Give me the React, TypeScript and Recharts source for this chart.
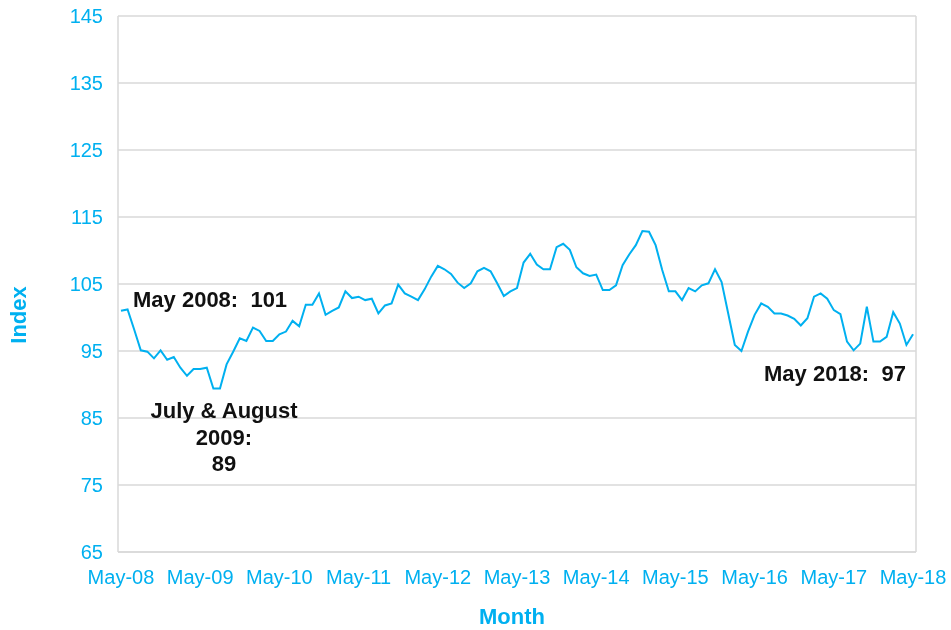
import { CartesianGrid, Line, LineChart, ReferenceLine, XAxis, YAxis } from "recharts";

const tickLabels = [
  "May-08", "May-09", "May-10", "May-11", "May-12", "May-13",
  "May-14", "May-15", "May-16", "May-17", "May-18",
];
const yTicks = [65, 75, 85, 95, 105, 115, 125, 135, 145];

// monthly index, May 2008 .. May 2018
const indexValues = [
  101.0, 101.2, 98.2, 95.1, 94.9, 93.9, 95.1, 93.7, 94.1, 92.5,
  91.3, 92.3, 92.3, 92.5, 89.4, 89.4, 93.0, 94.9, 96.9, 96.5,
  98.5, 98.0, 96.5, 96.5, 97.5, 97.9, 99.5, 98.7, 101.9, 101.9,
  103.6, 100.4, 101.0, 101.5, 103.9, 102.9, 103.1, 102.6, 102.8, 100.6,
  101.8, 102.1, 104.9, 103.6, 103.1, 102.6, 104.2, 106.1, 107.7, 107.2,
  106.5, 105.2, 104.4, 105.1, 106.9, 107.4, 106.9, 105.1, 103.2, 103.9,
  104.4, 108.2, 109.5, 107.9, 107.2, 107.2, 110.5, 111.0, 110.1, 107.5,
  106.6, 106.2, 106.4, 104.1, 104.1, 104.8, 107.8, 109.4, 110.8, 112.9,
  112.8, 110.8, 107.1, 103.9, 103.9, 102.6, 104.4, 103.9, 104.8, 105.1,
  107.2, 105.3, 100.6, 95.9, 95.0, 97.9, 100.4, 102.1, 101.6, 100.6,
  100.6, 100.3, 99.8, 98.8, 99.9, 103.1, 103.6, 102.8, 101.1, 100.5,
  96.4, 95.1, 96.1, 101.6, 96.4, 96.4, 97.1, 100.8, 99.1, 95.9,
  97.5,
];

const data = indexValues.map((v, i) => ({ m: i, index: v }));
const xTicks = tickLabels.map((_, i) => i * 12);

const blue = "#00B0F0";
const grid = "#d9d9d9";
const font = "'Liberation Sans', Arial, sans-serif";

export default function App() {
  return (
    <div style={{ position: "fixed", left: 0, top: 0, width: 951, height: 630, fontFamily: font }}>
      <LineChart
        width={951}
        height={630}
        data={data}
        margin={{ top: 16, right: 35, bottom: 48, left: 0 }}
      >
        <CartesianGrid vertical={false} stroke={grid} strokeWidth={1.5} />
        <XAxis
          dataKey="m"
          type="number"
          domain={[-0.45, 120.45]}
          ticks={xTicks}
          interval={0}
          tickFormatter={(v: number) => tickLabels[v / 12]}
          axisLine={{ stroke: grid, strokeWidth: 1.5 }}
          tickLine={false}
          tickMargin={12}
          tick={{ fill: blue, fontSize: 20, fontFamily: font }}
        />
        <YAxis
          domain={[65, 145]}
          ticks={yTicks}
          width={118}
          axisLine={{ stroke: grid, strokeWidth: 1.5 }}
          tickLine={false}
          tickMargin={9}
          tick={{ fill: blue, fontSize: 20, fontFamily: font }}
        />
        <ReferenceLine x={120.45} stroke={grid} strokeWidth={1.5} />
        <Line
          type="linear"
          dataKey="index"
          stroke={blue}
          strokeWidth={2}
          dot={false}
          isAnimationActive={false}
        />
      </LineChart>
      <svg
        width={951}
        height={630}
        style={{ position: "absolute", left: 0, top: 0, pointerEvents: "none" }}
      >
        <text
          transform="translate(18 315) rotate(-90)"
          textAnchor="middle"
          dominantBaseline="central"
          fill={blue}
          fontWeight="bold"
          fontSize={22}
          fontFamily={font}
        >
          Index
        </text>
        <text x={512} y={624} textAnchor="middle" fill={blue} fontWeight="bold" fontSize={22} fontFamily={font}>
          Month
        </text>
        <g fill="#111" fontWeight="bold" fontSize={22} fontFamily={font}>
          <text x={133} y={307}>{"May 2008:\u00a0 101"}</text>
          <text x={224} y={418} textAnchor="middle">July &amp; August</text>
          <text x={224} y={445} textAnchor="middle">2009:</text>
          <text x={224} y={471} textAnchor="middle">89</text>
          <text x={764} y={381}>{"May 2018:\u00a0 97"}</text>
        </g>
      </svg>
    </div>
  );
}
